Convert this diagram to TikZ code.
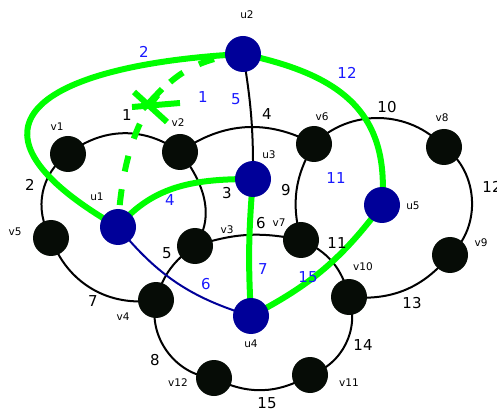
\documentclass[tikz,border=0pt]{standalone}
\usepackage{fontspec}
\setmainfont{DejaVu Sans}
\definecolor{vfill}{RGB}{6,12,6}
\definecolor{ufill}{RGB}{0,0,153}
\definecolor{gline}{RGB}{0,255,0}
\definecolor{blab}{RGB}{25,25,255}
\pgfdeclarelayer{bg}
\pgfsetlayers{bg,main}
\begin{document}
\begin{tikzpicture}[x=1pt,y=1pt,
  vnode/.style={circle,fill=vfill,minimum size=36pt,inner sep=0pt},
  unode/.style={circle,fill=ufill,minimum size=36pt,inner sep=0pt},
  edge/.style={line width=2pt,black},
  uedge/.style={line width=2pt,ufill},
  gedge/.style={line width=6pt,gline},
  nm/.style={font=\fontsize{10.5}{10.5}\selectfont,inner sep=0pt},
  num/.style={font=\fontsize{15}{15}\selectfont,inner sep=0pt},
  bnum/.style={num,text=blab}]
\useasboundingbox (0,0) rectangle (497,-411);
% vertices
\node[vnode] (v1) at (68,-154) {};
\node[vnode] (v2) at (180,-152) {};
\node[vnode] (v3) at (195,-246) {};
\node[vnode] (v4) at (156,-300) {};
\node[vnode] (v5) at (51,-238) {};
\node[vnode] (v6) at (314,-144) {};
\node[vnode] (v7) at (301,-240) {};
\node[vnode] (v8) at (444,-147) {};
\node[vnode] (v9) at (450,-255) {};
\node[vnode] (v10) at (349,-297) {};
\node[vnode] (v11) at (310,-375) {};
\node[vnode] (v12) at (214,-378) {};
\node[unode] (u1) at (118,-227) {};
\node[unode] (u2) at (243,-54) {};
\node[unode] (u3) at (253,-179) {};
\node[unode] (u4) at (251,-316) {};
\node[unode] (u5) at (382,-205) {};
\coordinate (x1) at (147,-105);
% names
\node[nm] (lv1) at (57,-127) {v1};
\node[nm] (lv2) at (178,-123) {v2};
\node[nm] (lv3) at (227,-230) {v3};
\node[nm] (lv4) at (123,-317) {v4};
\node[nm] (lv5) at (15,-232) {v5};
\node[nm] (lv6) at (322,-117) {v6};
\node[nm] (lv7) at (279,-223) {v7};
\node[nm] (lv8) at (442,-118) {v8};
\node[nm] (lv9) at (481,-243) {v9};
\node[nm] (lv10) at (363,-267) {v10};
\node[nm] (lv11) at (349,-383) {v11};
\node[nm] (lv12) at (178,-383) {v12};
\node[nm] (lu1) at (97,-197) {u1};
\node[nm] (lu2) at (247,-15) {u2};
\node[nm] (lu3) at (269,-155) {u3};
\node[nm] (lu4) at (251,-344) {u4};
\node[nm] (lu5) at (413,-206) {u5};
% edge numbers
\node[num] (n1) at (127,-115) {1};
\node[num] (n2) at (30,-185) {2};
\node[num] (n3) at (227,-193) {3};
\node[num] (n4) at (267,-114) {4};
\node[num] (n5) at (167,-253) {5};
\node[num] (n6) at (261,-223) {6};
\node[num] (n7) at (93,-301) {7};
\node[num] (n8) at (155,-360) {8};
\node[num] (n9) at (286,-190) {9};
\node[num] (n10) at (387,-107) {10};
\node[num] (n11) at (337,-243) {11};
\node[num] (n12) at (492,-187) {12};
\node[num] (n13) at (412,-303) {13};
\node[num] (n14) at (363,-345) {14};
\node[num] (n15) at (267,-403) {15};
% dual numbers
\node[bnum] (b1) at (203,-97) {1};
\node[bnum] (b2) at (144,-52) {2};
\node[bnum] (b4) at (170,-200) {4};
\node[bnum] (b5) at (236,-99) {5};
\node[bnum] (b6) at (206,-284) {6};
\node[bnum] (b7) at (263,-269) {7};
\node[bnum] (b11) at (336,-178) {11};
\node[bnum] (b12) at (347,-73) {12};
\node[bnum] (b15) at (308,-277) {15};
\begin{pgfonlayer}{bg}
\draw[edge] (v1.center) to[bend left=37] (v2.center);
\draw[edge] (v1.center) to[bend right=43] (v5.center);
\draw[edge] (v2.center) to[out=-52,in=55] (v3.center);
\draw[edge] (v2.center) to[bend left=32] (v6.center);
\draw[edge] (v3.center) to[bend right=20] (v4.center);
\draw[edge] (v3.center) to[bend left=15] (v7.center);
\draw[edge] (v5.center) to[bend right=40] (v4.center);
\draw[edge] (v4.center) to[bend right=50] (v12.center);
\draw[edge] (v6.center) to[bend right=23] (v7.center);
\draw[edge] (v6.center) to[bend left=46] (v8.center);
\draw[edge] (v7.center) to[bend left=27] (v10.center);
\draw[edge] (v8.center) to[bend left=52] (v9.center);
\draw[edge] (v10.center) to[bend right=28] (v9.center);
\draw[edge] (v10.center) to[bend left=45] (v11.center);
\draw[edge] (v11.center) to[bend left=29] (v12.center);
\draw[edge] (u2.center) to[bend left=5] (u3.center);
\draw[uedge] (u1.center) to[bend right=17] (u4.center);
\draw[gedge] (u1.center) .. controls +(150:210) and +(183:190) .. (u2.center);
\draw[gedge,dash pattern=on 16pt off 18pt,dash phase=12pt] (u1.center) .. controls +(7,127) and +(-68,-6) .. (u2.center);
\draw[gedge] (x1) ++(-15,-2) -- ++(48,4);
\draw[gedge] (x1) ++(-13,13) -- ++(33,-30);
\draw[gedge] (x1) ++(15,16) -- ++(-19,-20);
\draw[gedge] (u1.center) to[out=50,in=180] (u3.center);
\draw[gedge] (u3.center) to[bend right=4] (u4.center);
\draw[gedge] (u2.center) to[out=-12,in=85,looseness=1.2] (u5.center);
\draw[gedge] (u4.center) to[bend right=13] (u5.center);
\end{pgfonlayer}
\end{tikzpicture}
\end{document}
